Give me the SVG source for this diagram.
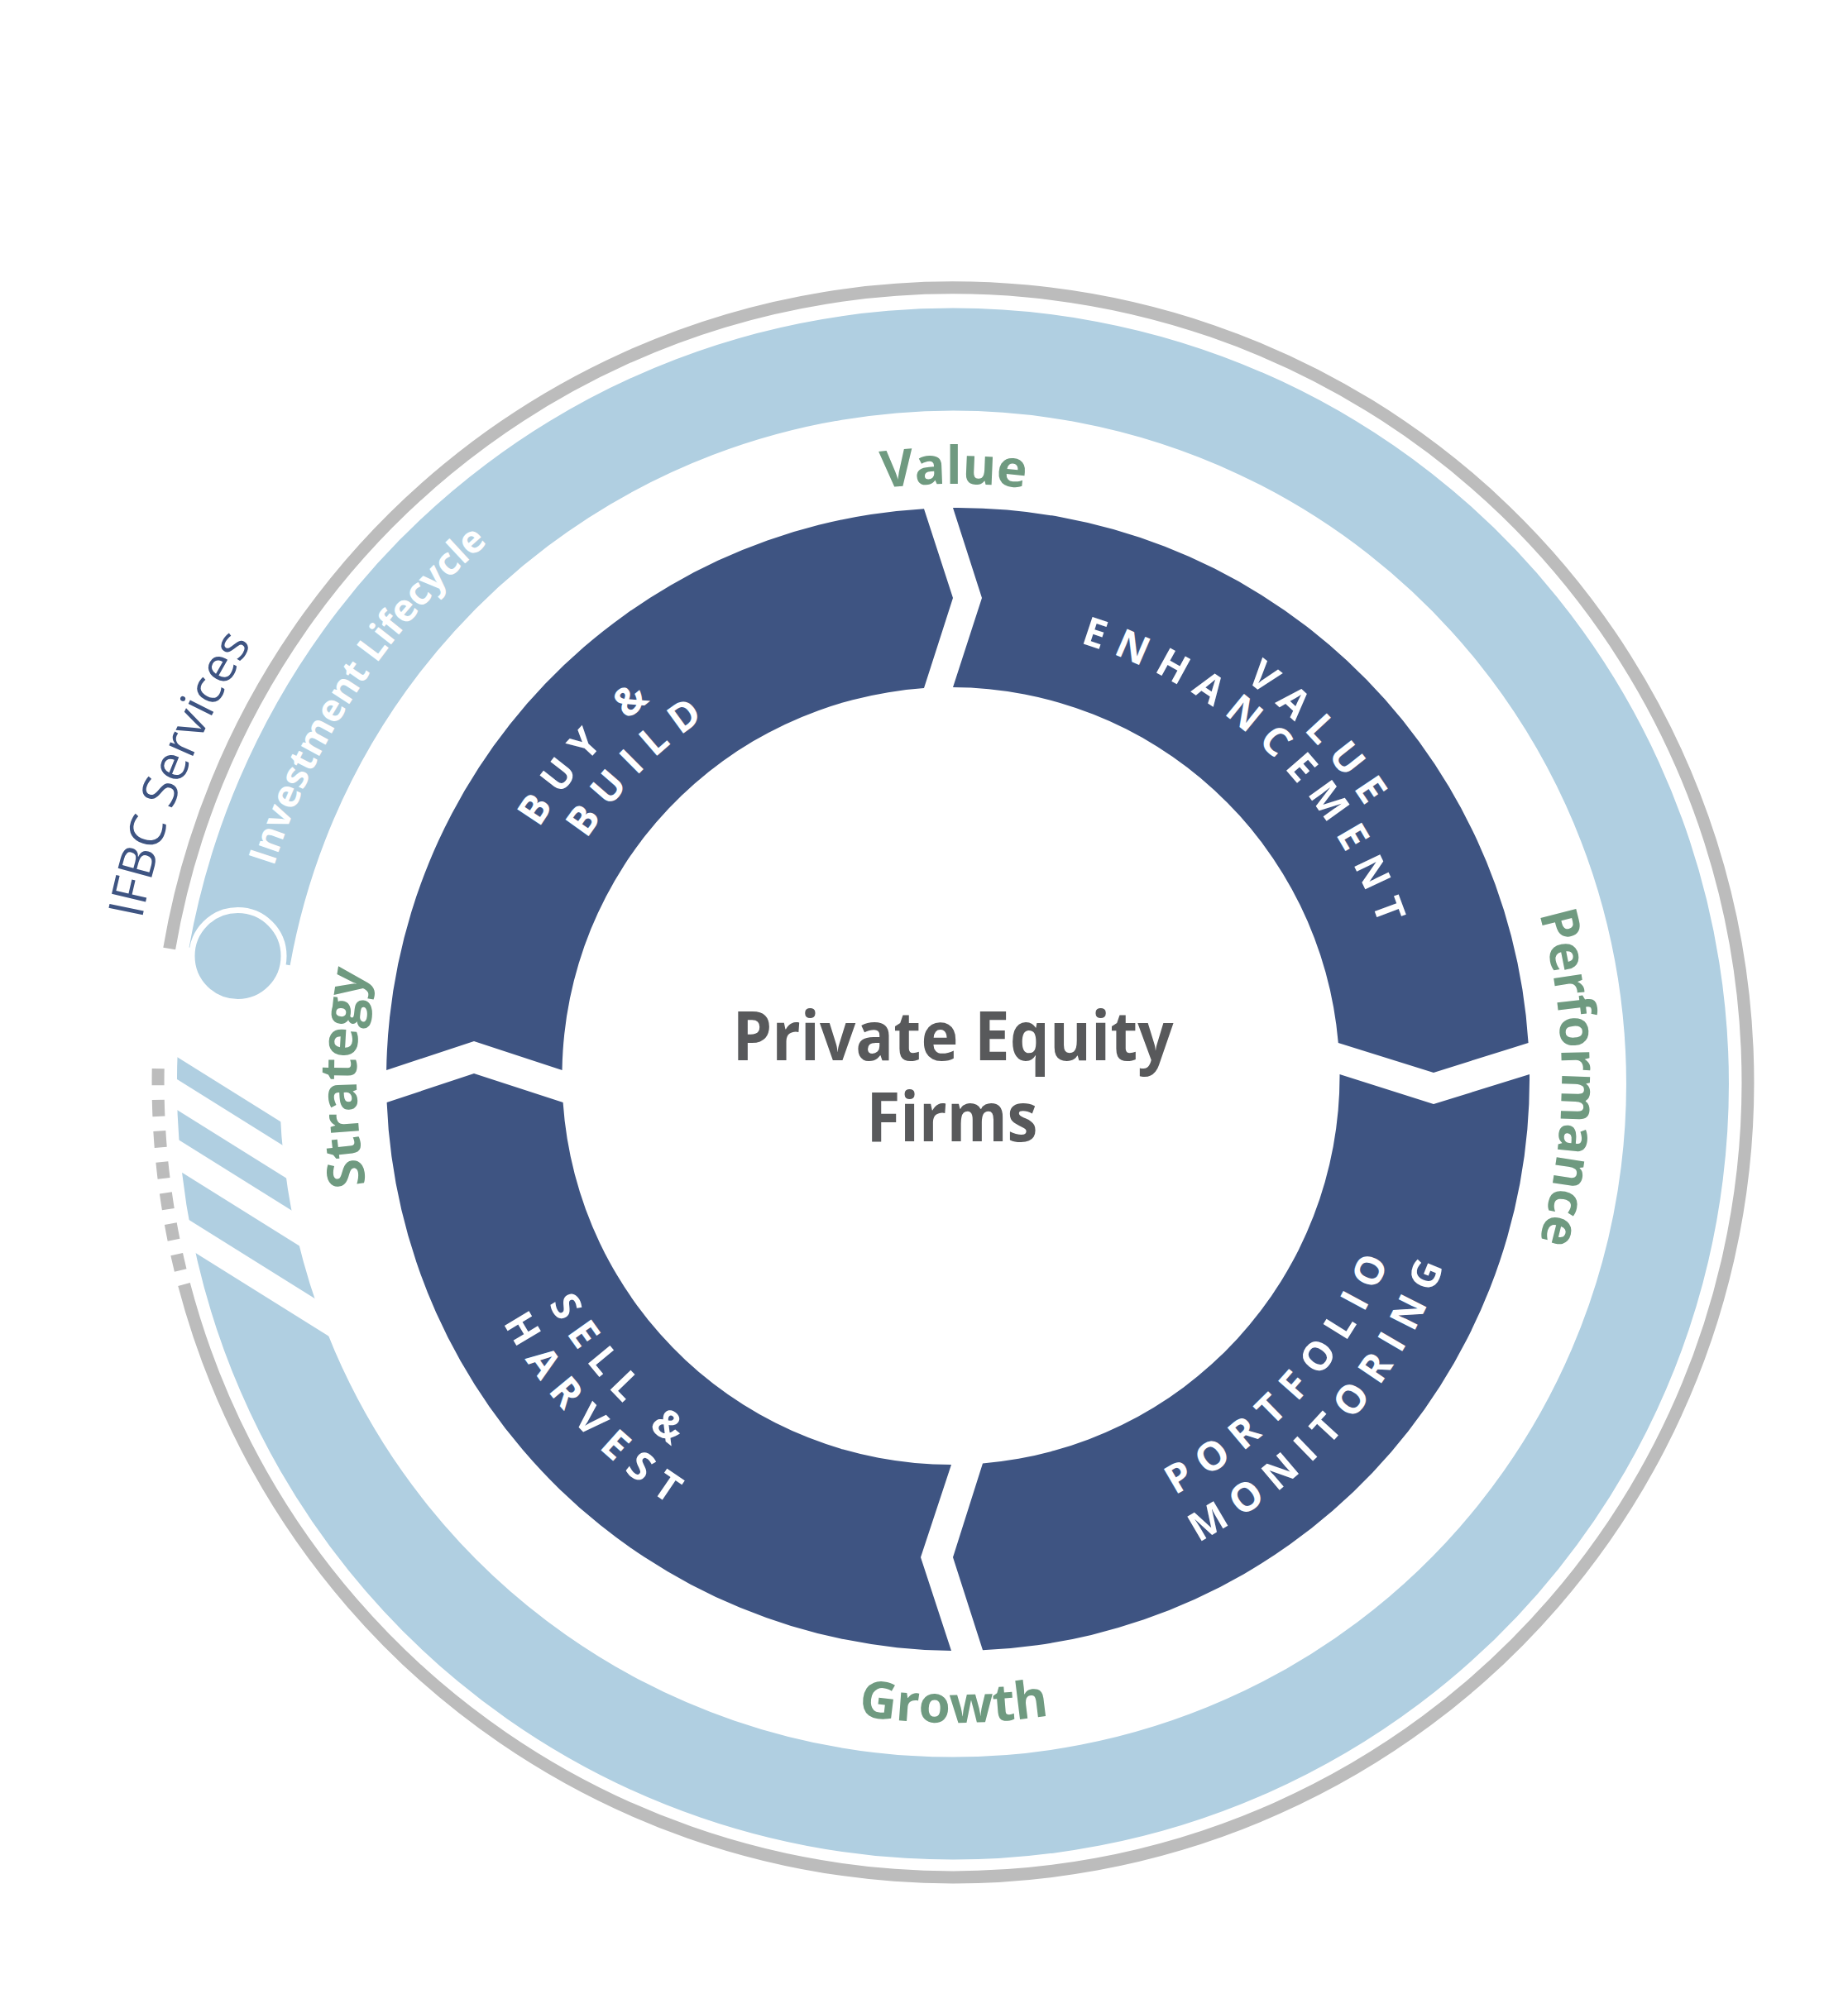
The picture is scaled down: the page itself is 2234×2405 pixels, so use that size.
<svg xmlns="http://www.w3.org/2000/svg" xmlns:xlink="http://www.w3.org/1999/xlink" width="2234" height="2405" viewBox="0 0 2234 2405">
<style>
.gray{fill:none;stroke:#bcbcbc;stroke-width:15}
.band{fill:none;stroke:#b0cfe1;stroke-width:124}
.seg{fill:#3e5482}
.gl{font-family:"Open Sans","Noto Sans","DejaVu Sans",sans-serif;font-weight:700;font-size:62px;fill:#6f9a80}
.sl{font-family:"Open Sans","Noto Sans","DejaVu Sans",sans-serif;font-weight:700;font-size:48px;fill:#ffffff;letter-spacing:14.5px}
.ct{font-family:"Open Sans","Noto Sans","DejaVu Sans",sans-serif;font-weight:700;font-size:82px;fill:#58595b}
.ifbc{font-family:"Open Sans","Noto Sans","DejaVu Sans",sans-serif;font-weight:400;font-size:59px;fill:#3e5482}
.inv{font-family:"Open Sans","Noto Sans","DejaVu Sans",sans-serif;font-weight:700;font-size:46px;fill:#ffffff}
</style>
<defs>
<path id="pValue" d="M 691.5 753 A 718 718 0 0 1 1614.5 753"/>
<path id="pPerf" d="M 1716 830.5 A 735 735 0 0 1 1716 1775.5"/>
<path id="pStrat" d="M 599.9 1767.1 A 722 722 0 0 1 599.9 838.9"/>
<path id="pGrowth" d="M 651.6 1900.5 A 780 780 0 0 0 1654.4 1900.5"/>
<path id="pInv" d="M 291.6 1257.4 A 862 862 0 0 1 767.4 538.6"/>
<path id="pIfbc" d="M 162.5 1453.4 A 1000 1000 0 0 1 532.3 524.1"/>
<path id="pBuy" d="M 574 1386.4 A 585 585 0 0 1 1171.4 718.3"/>
<path id="pBuild" d="M 626.1 1350 A 529 529 0 0 1 1198.2 775.9"/>
<path id="pVal2" d="M 1122.8 707.8 A 596 596 0 0 1 1744.4 1376.7"/>
<path id="pEnh" d="M 1095.8 759 A 547 547 0 0 1 1698.7 1341.2"/>
<path id="pPort" d="M 1135.1 1873.7 A 571 571 0 0 0 1718.2 1221.6"/>
<path id="pMon" d="M 1141.9 1937.9 A 635 635 0 0 0 1780.2 1203.7"/>
<path id="pSell" d="M 598 1221 A 561 561 0 0 0 1168.7 1863.8"/>
<path id="pHarv" d="M 537.5 1228.5 A 620 620 0 0 0 1186.5 1922.1"/>
<mask id="bandMask" maskUnits="userSpaceOnUse" x="0" y="0" width="2234" height="2405">
<rect x="0" y="0" width="2234" height="2405" fill="#fff"/>
<polygon fill="#000" points="140,1200 420,1200 420,1406.75 140,1231.75"/>
<polygon fill="#000" points="140,1258.75 420,1433.75 420,1470.75 140,1295.75"/>
<polygon fill="#000" points="140,1330.75 420,1505.75 420,1542.75 140,1367.75"/>
<polygon fill="#000" points="140,1419.75 420,1594.75 420,1629.75 140,1454.75"/>
</mask>
</defs>
<rect x="0" y="0" width="2234" height="2405" fill="#ffffff"/>
<g id="outer-ring">
<path class="gray" d="M 204.7 1147 A 961 961 0 1 1 222.5 1553"/>
<path class="gray" stroke-dasharray="20 17.65" d="M 191.2 1292.2 A 961 961 0 0 0 218.2 1535.9"/>
</g>
<g id="ifbc-services">
<text class="ifbc" text-anchor="middle"><textPath href="#pIfbc" startOffset="50%">IFBC Services</textPath></text>
</g>
<g id="investment-lifecycle">
<path class="band" mask="url(#bandMask)" d="M 289.6 1156.4 A 876 876 0 1 1 278.1 1248.9"/>
<circle cx="287.5" cy="1156" r="55.5" fill="#b0cfe1" stroke="#ffffff" stroke-width="7"/>
<text class="inv" text-anchor="middle"><textPath href="#pInv" startOffset="50%">Investment Lifecycle</textPath></text>
</g>
<g id="label-value"><text class="gl" text-anchor="middle"><textPath href="#pValue" startOffset="50%">Value</textPath></text></g>
<g id="label-performance"><text class="gl" text-anchor="middle"><textPath href="#pPerf" startOffset="50%">Performance</textPath></text></g>
<g id="label-growth"><text class="gl" text-anchor="middle"><textPath href="#pGrowth" startOffset="50%">Growth</textPath></text></g>
<g id="label-strategy"><text class="gl" text-anchor="middle"><textPath href="#pStrat" startOffset="50%">Strategy</textPath></text></g>
<g id="node-buy-build">
<path class="seg" d="M 467.1 1294 A 691 691 0 0 1 1117 615.2 L 1152 723 L 1117 832.1 A 470 470 0 0 0 679.55 1294 L 573 1259 Z"/>
<text class="sl" text-anchor="middle"><textPath href="#pBuy" startOffset="50%">BUY &amp;</textPath></text>
<text class="sl" text-anchor="middle"><textPath href="#pBuild" startOffset="50%">BUILD</textPath></text>
</g>
<g id="node-value-enhancement">
<path class="seg" d="M 1152 614 A 691 691 0 0 1 1847.6 1261 L 1733 1297 L 1617.8 1261 A 470 470 0 0 0 1152 831 L 1187 723 Z"/>
<text class="sl" text-anchor="middle"><textPath href="#pVal2" startOffset="50%">VALUE</textPath></text>
<text class="sl" text-anchor="middle"><textPath href="#pEnh" startOffset="50%">ENHANCEMENT</textPath></text>
</g>
<g id="node-portfolio-monitoring">
<path class="seg" d="M 1849 1299 A 691 691 0 0 1 1188 1995.3 L 1152 1883 L 1188 1769.4 A 470 470 0 0 0 1619.5 1299 L 1733 1335 Z"/>
<text class="sl" text-anchor="middle"><textPath href="#pPort" startOffset="50%">PORTFOLIO</textPath></text>
<text class="sl" text-anchor="middle"><textPath href="#pMon" startOffset="50%">MONITORING</textPath></text>
</g>
<g id="node-sell-harvest">
<path class="seg" d="M 1150 1996 A 691 691 0 0 1 467.6 1333 L 573 1298 L 680.6 1333 A 470 470 0 0 0 1150 1771 L 1113 1883 Z"/>
<text class="sl" text-anchor="middle"><textPath href="#pSell" startOffset="50%">SELL &amp;</textPath></text>
<text class="sl" text-anchor="middle"><textPath href="#pHarv" startOffset="50%">HARVEST</textPath></text>
</g>
<g id="node-center">
<text class="ct" x="1152" y="1282" text-anchor="middle" textLength="533" lengthAdjust="spacingAndGlyphs">Private Equity</text>
<text class="ct" x="1151" y="1380" text-anchor="middle" textLength="207" lengthAdjust="spacingAndGlyphs">Firms</text>
</g>
</svg>
